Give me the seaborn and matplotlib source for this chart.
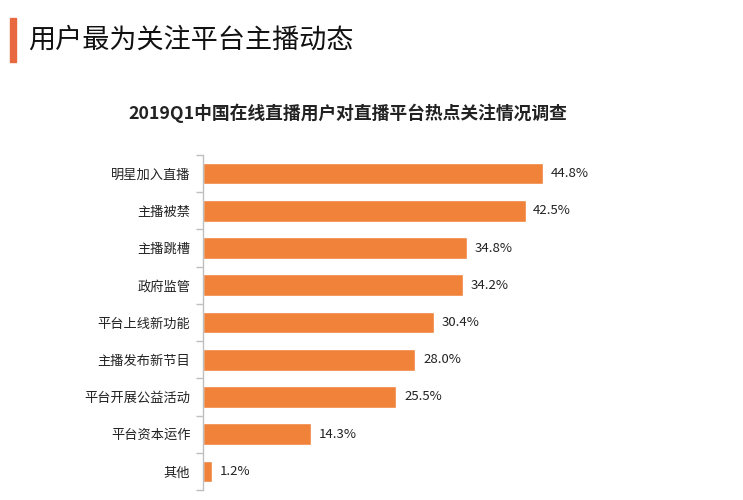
import numpy as np
import pandas as pd
import seaborn as sns
import matplotlib.pyplot as plt
from matplotlib.patches import Rectangle

categories = ['明星加入直播', '主播被禁', '主播跳槽', '政府监管', '平台上线新功能',
              '主播发布新节目', '平台开展公益活动', '平台资本运作', '其他']
values = [44.8, 42.5, 34.8, 34.2, 30.4, 28.0, 25.5, 14.3, 1.2]

page_title = '用户最为关注平台主播动态'
chart_title = '2019Q1中国在线直播用户对直播平台热点关注情况调查'

sns.set_theme(style='white')
plt.rcParams['font.family'] = ['Noto Sans CJK SC', 'DejaVu Sans']

df = pd.DataFrame({'cat': categories, 'val': values})

fig = plt.figure(figsize=(7.43, 5), dpi=100)
ax = fig.add_axes([0.273, 0.02, 0.60, 0.67])

sns.barplot(data=df, y='cat', x='val', color='#F0823A', saturation=1,
            width=0.58, ax=ax)

ax.set_xlim(0, 58.7)
ax.set_ylim(len(categories) - 0.5, -0.5)
ax.set_xlabel('')
ax.set_ylabel('')
ax.set_xticks([])
for s in ['top', 'right', 'bottom']:
    ax.spines[s].set_visible(False)
ax.spines['left'].set_color('#BFBFBF')
ax.spines['left'].set_linewidth(1)

ax.tick_params(axis='y', which='major', length=0, labelsize=9.5, pad=9, labelcolor='#222222')
ax.set_yticks(np.arange(-0.5, len(categories)), minor=True)
ax.tick_params(axis='y', which='minor', length=5, color='#BFBFBF', width=1, left=True)

for i, v in enumerate(values):
    ax.text(v + 1.0, i, f'{v:.1f}%', va='center', ha='left', fontsize=9.5, color='#222222')

# page header
fig.patches.append(Rectangle((10 / 743, 1 - 62 / 500), 6 / 743, 44 / 500,
                             transform=fig.transFigure, color='#E8683F'))
fig.text(28 / 743, 1 - 40 / 500, page_title, fontsize=19.5, fontweight='medium',
         va='center', ha='left', color='#111111')
fig.text(348 / 743, 1 - 113 / 500, chart_title, fontsize=12.8, fontweight='bold',
         va='center', ha='center', color='#222222')

fig.savefig('out.png', dpi=100)
